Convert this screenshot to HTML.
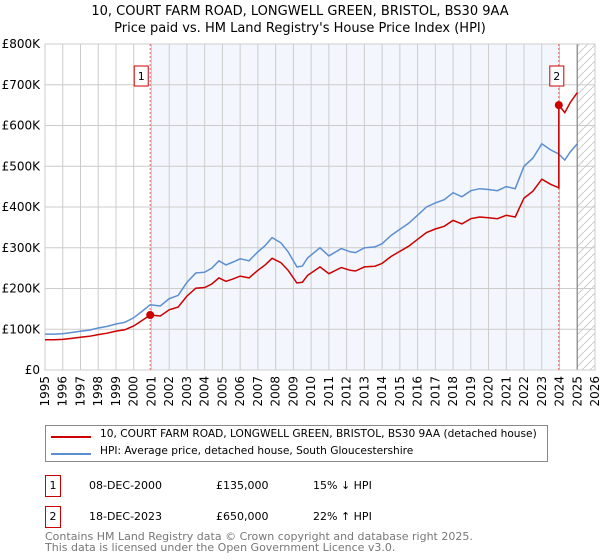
<!DOCTYPE html>
<html><head><meta charset="utf-8"><style>
body{margin:0;background:#fff;font-family:"DejaVu Sans","Liberation Sans",sans-serif;}
#wrap{position:relative;width:600px;height:560px;overflow:hidden;}
.t{position:absolute;white-space:nowrap;color:#000;}
</style></head><body>
<div id="wrap">
<div class="t" style="left:0;width:600px;text-align:center;top:3px;font-size:13px;line-height:17px;">10, COURT FARM ROAD, LONGWELL GREEN, BRISTOL, BS30 9AA<br>Price paid vs. HM Land Registry's House Price Index (HPI)</div>
<svg id="chart" width="600" height="420" style="position:absolute;left:0;top:0"></svg>
<div style="position:absolute;left:45px;top:425px;width:503px;height:37px;border:1px solid #888;box-sizing:border-box;">
 <div style="position:absolute;left:5px;top:10px;width:40px;height:2px;background:#cc0000"></div>
 <div class="t" style="left:54px;top:2px;font-size:10.6px;">10, COURT FARM ROAD, LONGWELL GREEN, BRISTOL, BS30 9AA (detached house)</div>
 <div style="position:absolute;left:5px;top:27px;width:40px;height:2px;background:#5b8fd0"></div>
 <div class="t" style="left:54px;top:19px;font-size:10.6px;">HPI: Average price, detached house, South Gloucestershire</div>
</div>
<div>
 <div class="t" style="left:45px;top:475px;width:14px;height:20px;border:1px solid #cc0000;text-align:center;font-size:11px;line-height:20px;">1</div>
 <div class="t" style="left:89px;top:479px;font-size:11px;">08-DEC-2000</div>
 <div class="t" style="left:216px;top:479px;font-size:11px;">£135,000</div>
 <div class="t" style="left:313px;top:479px;font-size:11px;">15% ↓ HPI</div>
</div>
<div>
 <div class="t" style="left:45px;top:506px;width:14px;height:20px;border:1px solid #cc0000;text-align:center;font-size:11px;line-height:20px;">2</div>
 <div class="t" style="left:89px;top:510px;font-size:11px;">18-DEC-2023</div>
 <div class="t" style="left:216px;top:510px;font-size:11px;">£650,000</div>
 <div class="t" style="left:313px;top:510px;font-size:11px;">22% ↑ HPI</div>
</div>
<div class="t" style="left:45px;top:531px;font-size:11px;line-height:11px;color:#777;">Contains HM Land Registry data © Crown copyright and database right 2025.<br>This data is licensed under the Open Government Licence v3.0.</div>
</div>
<script>
const hpiYears=[1995,1995.5,1996,1996.5,1997,1997.5,1998,1998.5,1999,1999.5,2000,2000.5,2000.93,2001.5,2002,2002.5,2003,2003.5,2004,2004.4,2004.8,2005.2,2005.6,2006,2006.5,2007,2007.4,2007.8,2008.3,2008.7,2009.2,2009.5,2009.8,2010.5,2011,2011.7,2012.2,2012.5,2013,2013.6,2014,2014.5,2015,2015.5,2016,2016.5,2017,2017.5,2018,2018.5,2019,2019.5,2020,2020.5,2021,2021.5,2022,2022.5,2023,2023.5,2023.96,2024.3,2024.6,2025];
const hpiValues=[88,88,89,92,95,98,103,107,113,117,128,145,160,157,175,183,215,238,240,250,268,258,265,273,268,290,305,325,312,290,253,255,275,300,280,298,290,288,300,302,310,330,345,360,380,400,410,418,435,425,440,445,443,440,450,445,500,520,555,540,530,515,535,555];
const saleYears=[2000.93,2023.96];
const salePrices=[135,650];
const yTicks=[0,100,200,300,400,500,600,700,800];
const yTickLabels=["£0","£100K","£200K","£300K","£400K","£500K","£600K","£700K","£800K"];
const xTicks=[1995,1996,1997,1998,1999,2000,2001,2002,2003,2004,2005,2006,2007,2008,2009,2010,2011,2012,2013,2014,2015,2016,2017,2018,2019,2020,2021,2022,2023,2024,2025,2026];

const svg=document.getElementById('chart');
const NS='http://www.w3.org/2000/svg';
const L=45,R=595,T=44,B=370,X0=1995,X1=2026,YMAX=800;
const xs=v=>L+(v-X0)/(X1-X0)*(R-L);
const ys=v=>B-v/YMAX*(B-T);
function mk(tag,attrs,parent){const e=document.createElementNS(NS,tag);for(const k in attrs)e.setAttribute(k,attrs[k]);(parent||svg).appendChild(e);return e;}
function hpiAt(y){for(let i=1;i<hpiYears.length;i++){if(y<=hpiYears[i]){const a=hpiYears[i-1],b=hpiYears[i];return hpiValues[i-1]+(hpiValues[i]-hpiValues[i-1])*(y-a)/(b-a);}}return hpiValues[hpiValues.length-1];}

let e=mk('rect',{x:xs(saleYears[0]),y:T,width:xs(saleYears[1])-xs(saleYears[0]),height:B-T,fill:'#eef3fc',opacity:0.7});


const defs=mk('defs',{});
const pat=mk('pattern',{id:'hatch',width:8,height:8,patternUnits:'userSpaceOnUse'},defs);
mk('path',{d:'M0,8 L8,0',stroke:'#ccc','stroke-width':1},pat);
e=mk('rect',{x:xs(2025),y:T,width:R-xs(2025),height:B-T,fill:'url(#hatch)'});


yTicks.forEach((v,i)=>{
 const g=mk('line',{x1:L,x2:R,y1:ys(v),y2:ys(v),stroke:'#ccc','stroke-width':1});
 
 
 const t=mk('text',{x:L-5,y:ys(v)+4,'text-anchor':'end','font-size':12,'font-family':'DejaVu Sans, Liberation Sans, sans-serif'});
 t.textContent=yTickLabels[i];
 
 
});
xTicks.forEach(v=>{
 const g=mk('line',{x1:xs(v),x2:xs(v),y1:T,y2:B,stroke:'#ccc','stroke-width':1});
 
 
 const t=mk('text',{x:0,y:0,'text-anchor':'end','font-size':12,'font-family':'DejaVu Sans, Liberation Sans, sans-serif',transform:`translate(${xs(v)+4},${B+6}) rotate(-90)`});
 t.textContent=v;
 
 
});
e=mk('line',{x1:xs(2025),x2:xs(2025),y1:T,y2:B,stroke:'#999','stroke-width':1.5});


e=mk('rect',{x:L,y:T,width:R-L,height:B-T,fill:'none',stroke:'#ccc'});


saleYears.forEach((sy,i)=>{
 const l=mk('line',{x1:xs(sy),x2:xs(sy),y1:T,y2:B,stroke:'#e06060','stroke-width':1,'stroke-dasharray':'2,2'});
 
 
 const bx=xs(sy)-(i==0?9:2)-7;
 const r=mk('rect',{x:bx,y:66,width:14,height:20,fill:'#fff',stroke:'#cc0000'});
 
 
 const t=mk('text',{x:bx+7,y:80,'text-anchor':'middle','font-size':11,'font-family':'DejaVu Sans, sans-serif'});
 t.textContent=String(i+1);
 
 
});
let d=hpiYears.map((y,i)=>(i?'L':'M')+xs(y).toFixed(1)+','+ys(hpiValues[i]).toFixed(1)).join(' ');
e=mk('path',{d:d,fill:'none',stroke:'#5b8fd0','stroke-width':1.5});


let pts=[];
hpiYears.forEach((y,i)=>{
 let k=0; if(y>=saleYears[1])k=1;
 if(y>saleYears[1]-0.001&&y<saleYears[1]+0.001){pts.push([y,salePrices[0]*hpiValues[i]/hpiAt(saleYears[0])]);}
 pts.push([y,salePrices[k]*hpiValues[i]/hpiAt(saleYears[k])]);
});
d=pts.map((p,i)=>(i?'L':'M')+xs(p[0]).toFixed(1)+','+ys(p[1]).toFixed(1)).join(' ');
e=mk('path',{d:d,fill:'none',stroke:'#cc0000','stroke-width':1.5});


saleYears.forEach((sy,i)=>{
 const p=mk('circle',{cx:xs(sy),cy:ys(salePrices[i]),r:4,fill:'#cc0000'});
 
 
});
</script>
</body></html>
